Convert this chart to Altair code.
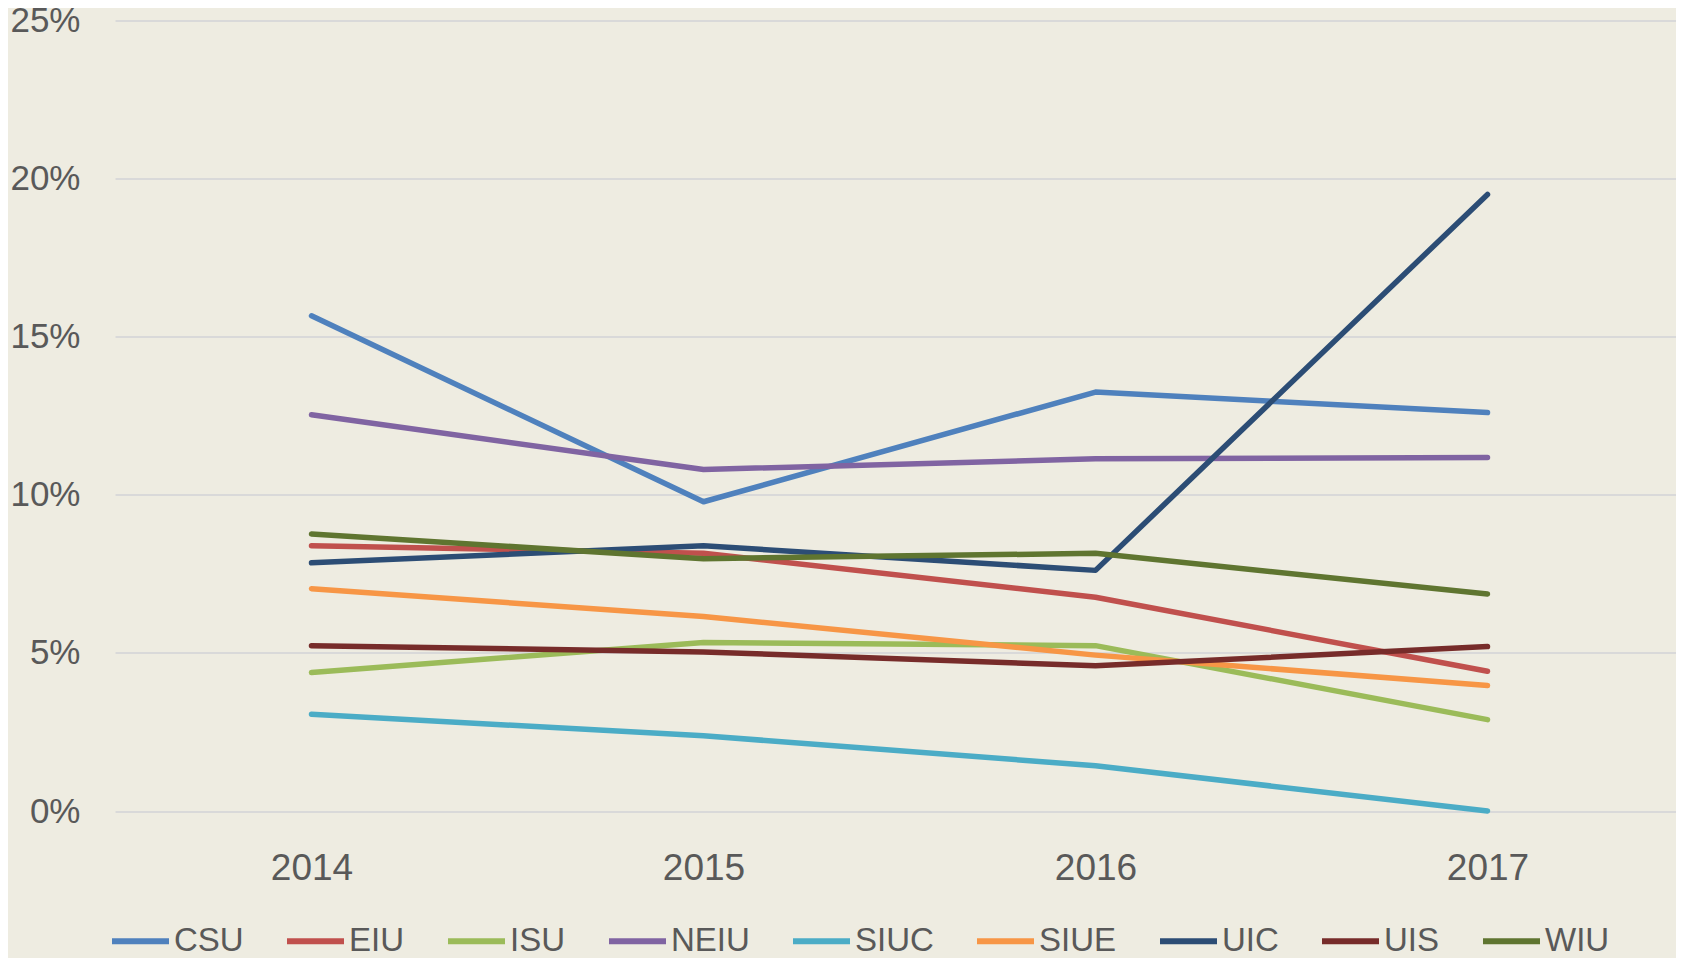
import altair as alt
import pandas as pd

years = [2014, 2015, 2016, 2017]
schools = ["CSU", "EIU", "ISU", "NEIU", "SIUC", "SIUE", "UIC", "UIS", "WIU"]
colors = ["#4F81BD", "#C0504D", "#9BBB59", "#8064A2", "#4BACC6",
          "#F79646", "#2C4D75", "#772C2A", "#5F7530"]

csu = [0.1566, 0.0978, 0.1325, 0.1260]
eiu = [0.0839, 0.0815, 0.0676, 0.0442]
isu = [0.0438, 0.0533, 0.0523, 0.0289]
neiu = [0.1253, 0.1080, 0.1114, 0.1118]
siuc = [0.0306, 0.0238, 0.0143, 0.0000]
siue = [0.0703, 0.0615, 0.0493, 0.0397]
uic = [0.0785, 0.0839, 0.0761, 0.1950]
uis = [0.0523, 0.0503, 0.0459, 0.0520]
wiu = [0.0876, 0.0798, 0.0815, 0.0686]

series = [csu, eiu, isu, neiu, siuc, siue, uic, uis, wiu]
rows = []
for name, vals in zip(schools, series):
    for y, v in zip(years, vals):
        rows.append({"School": name, "Year": y, "Rate": v})
df = pd.DataFrame(rows)

FONT = "Liberation Sans"
TXT = "#595959"

chart = alt.Chart(df).mark_line(strokeWidth=5.5, strokeCap="round", strokeJoin="round").encode(
    x=alt.X("Year:Q",
            scale=alt.Scale(domain=[2013.4987, 2017.4809], nice=False, zero=False),
            axis=alt.Axis(values=years, format="d", title=None, grid=False, ticks=False,
                          domain=False, labelFont=FONT, labelFontSize=37, labelColor=TXT,
                          labelPadding=39)),
    y=alt.Y("Rate:Q",
            scale=alt.Scale(domain=[0, 0.25], nice=False),
            axis=alt.Axis(values=[0, 0.05, 0.10, 0.15, 0.20, 0.25], format=".0%", title=None,
                          ticks=False, domain=False, gridColor="#D9D9D9", gridWidth=2,
                          labelFont=FONT, labelFontSize=35, labelColor=TXT, labelPadding=35)),
    color=alt.Color("School:N",
                    scale=alt.Scale(domain=schools, range=colors),
                    legend=alt.Legend(title=None, orient="none", direction="horizontal",
                                      legendX=-6, legendY=889, columns=9,
                                      symbolType="stroke", symbolSize=3249, symbolStrokeWidth=6,
                                      labelFont=FONT, labelFontSize=33,
                                      labelColor=TXT, labelOffset=2, columnPadding=31,
                                      padding=0)),
    order=alt.Order("Year:Q"),
).properties(
    width=1561,
    height=790.5,
    autosize=alt.AutoSizeParams(type="none"),
    padding={"left": 107, "top": 12.5, "right": 0, "bottom": 147},
    background="#EEECE1",
).configure_view(stroke=None)

chart.save("out.html", embed_options={"renderer": "svg", "actions": False})
